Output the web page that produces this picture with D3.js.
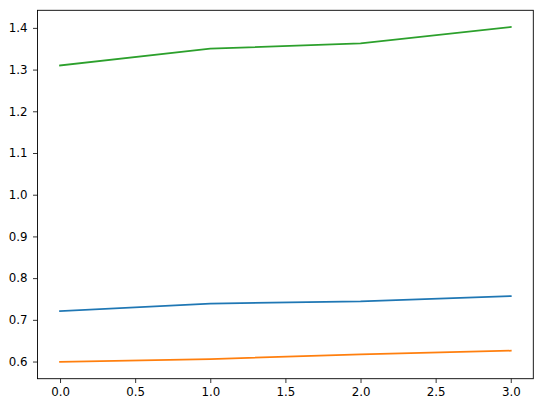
<!DOCTYPE html>
<html>
<head>
<meta charset="utf-8">
<script src="https://cdn.jsdelivr.net/npm/d3@7"></script>
<style>
  body { margin: 0; background: #fff; }
  svg text { font-family: "DejaVu Sans", sans-serif; font-size: 11.8px; fill: #000; }
</style>
</head>
<body>
<svg id="canvas" width="543" height="409"></svg>
<script>
        const xs = [0, 1, 2, 3];
        const blue = [0.721, 0.739, 0.744, 0.757];
        const orange = [0.599, 0.606, 0.617, 0.626];
        const green = [1.310, 1.350, 1.363, 1.402];
        const xTicks = [0, 0.5, 1, 1.5, 2, 2.5, 3];
        const yTicks = [0.6, 0.7, 0.8, 0.9, 1.0, 1.1, 1.2, 1.3, 1.4];

        const series = [
            { values: blue, color: "#1f77b4" },
            { values: orange, color: "#ff7f0e" },
            { values: green, color: "#2ca02c" }
        ];

        const svg = d3.select("#canvas");
        const plotLeft = 37.5, plotRight = 533.3, plotTop = 10.3, plotBottom = 378.7;

        // matplotlib-style 5% margins
        const allY = blue.concat(orange, green);
        const yMin = d3.min(allY), yMax = d3.max(allY);
        const yPad = (yMax - yMin) * 0.05;
        const xPad = (d3.max(xs) - d3.min(xs)) * 0.05;

        const x = d3.scaleLinear().domain([d3.min(xs) - xPad, d3.max(xs) + xPad]).range([plotLeft, plotRight]);
        const y = d3.scaleLinear().domain([yMin - yPad, yMax + yPad]).range([plotBottom, plotTop]);

        const line = d3.line().x((d, i) => x(xs[i])).y(d => y(d));

        series.forEach(s => {
            svg.append("path")
                .datum(s.values)
                .attr("fill", "none")
                .attr("stroke", s.color)
                .attr("stroke-width", 1.75)
                .attr("stroke-linecap", "square")
                .attr("d", line);
        });

        const xAxis = svg.append("g")
            .attr("transform", `translate(0,${plotBottom})`)
            .call(d3.axisBottom(x).tickValues(xTicks).tickFormat(d3.format(".1f")).tickSize(4.3).tickPadding(4.5));
        const yAxis = svg.append("g")
            .attr("transform", `translate(${plotLeft},0)`)
            .call(d3.axisLeft(y).tickValues(yTicks).tickFormat(d3.format(".1f")).tickSize(4.5).tickPadding(5.5));

        [xAxis, yAxis].forEach(g => {
            g.select(".domain").remove();
            g.selectAll("line").attr("stroke", "#000").attr("stroke-width", 0.8);
            g.selectAll("text").attr("font-family", "DejaVu Sans").attr("font-size", 11.8).attr("fill", "#000");
        });

        // frame
        svg.append("rect")
            .attr("x", plotLeft).attr("y", plotTop)
            .attr("width", plotRight - plotLeft).attr("height", plotBottom - plotTop)
            .attr("fill", "none").attr("stroke", "#000").attr("stroke-width", 0.9);
</script>
</body>
</html>
